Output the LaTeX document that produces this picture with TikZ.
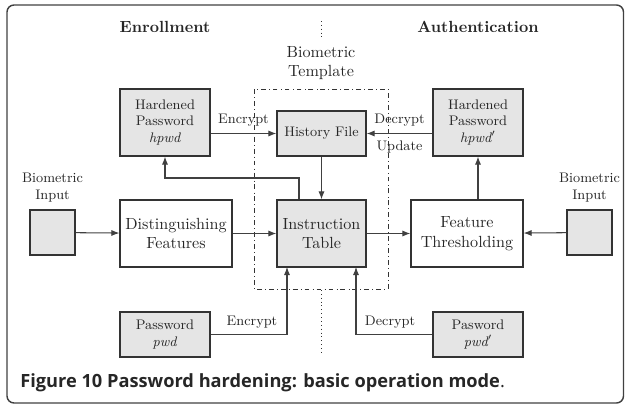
\documentclass[tikz,border=0pt]{standalone}
\usepackage{fontspec}
\newfontfamily\capfont{Open Sans}
\usetikzlibrary{arrows.meta}
\newlength{\pxu}
\setlength{\pxu}{0.62pt}
\tikzset{
  box/.style={rectangle, draw=black!80, line width=0.7pt, fill=black!10, text=black!85,
    font=\fontsize{8.6}{10.5}\selectfont, align=center, inner sep=0pt},
  bigbox/.style={rectangle, draw=black!80, line width=0.7pt, fill=white, text=black!85,
    align=center, inner sep=0pt, minimum width=112\pxu, minimum height=67\pxu},
  lbl/.style={font=\fontsize{8.6}{10.5}\selectfont, text=black!85, align=center},
  arr/.style={-{Latex[length=5pt,width=3.8pt]}, draw=black!75, line width=0.65pt},
}
\begin{document}
\begin{tikzpicture}[x=0.62pt, y=-0.62pt]
\useasboundingbox (0,0) rectangle (625,405);
\draw[rounded corners=7\pxu, line width=0.9pt, black!75] (7,5) rectangle (623.5,403);
% headings
\node[font=\bfseries, text=black!85] (enr) at (165,27) {Enrollment};
\node[font=\bfseries, text=black!85] (auth) at (478,27) {Authentication};
\node[align=center, text=black!85] (tmpl) at (321,63) {Biometric\\Template};
\draw[dotted, black!80] (321,21) -- (321,40);
\draw[dotted, black!80] (321,290) -- (321,353);
\draw[dash dot, black!80, line width=0.6pt] (254,89) rectangle (388,289);
% boxes
\node[box, minimum width=90\pxu, minimum height=67\pxu] (hpwd) at (165,122.5) {Hardened\\Password\\\textit{hpwd}};
\node[box, minimum width=89\pxu, minimum height=45\pxu] (hist) at (321.5,133.5) {History File};
\node[box, minimum width=90\pxu, minimum height=67\pxu] (hpwdb) at (478,122.5) {Hardened\\Password\\\textit{hpwd$'$}};
\node[box, minimum size=45\pxu] (bioL) at (52.5,232.5) {};
\node[lbl, anchor=south] (bioLt) at ([yshift=2\pxu]bioL.north) {Biometric\\Input};
\node[bigbox] (dist) at (176,233.5) {Distinguishing\\Features};
\node[box, font=\normalsize, minimum width=89\pxu, minimum height=67\pxu] (instr) at (321.5,233.5) {Instruction\\Table};
\node[bigbox] (thresh) at (467,233.5) {Feature\\Thresholding};
\node[box, minimum size=45\pxu] (bioR) at (589.5,232.5) {};
\node[lbl, anchor=south] (bioRt) at ([yshift=2\pxu]bioR.north) {Biometric\\Input};
\node[box, minimum width=90\pxu, minimum height=45\pxu] (pwd) at (165,334.5) {Password\\\textit{pwd}};
\node[box, minimum width=90\pxu, minimum height=45\pxu] (pwdb) at (478,334.5) {Pasword\\\textit{pwd$'$}};
% connectors
\draw[arr] (hist.west -| hpwd.east) -- node[lbl, above=1\pxu] {Encrypt} (hist.west);
\draw[arr] (hist.east -| hpwdb.west) -- node[lbl, above=1\pxu] {Decrypt} node[lbl, below=1\pxu] {Update} (hist.east);
\draw[arr] (hist) -- (instr);
\coordinate (knee) at (299,178);
\draw[arr] (instr.north -| knee) -- (knee) -| (hpwd.south);
\draw[arr] (bioL) -- (dist);
\draw[arr] (dist) -- (instr);
\draw[arr] (instr) -- (thresh);
\draw[arr] (bioR) -- (thresh);
\draw[arr] (thresh.north -| hpwdb) -- (hpwdb.south);
\coordinate (encin) at (287,267);
\coordinate (decin) at (356,267);
\draw[arr] (pwd.east) -| (encin);
\draw[arr] (pwdb.west) -| (decin);
\node[lbl] (enclbl) at (252,322.5) {Encrypt};
\node[lbl] (declbl) at (390,322.5) {Decrypt};
% caption
\node[anchor=base west, inner sep=0pt, font=\capfont\fontsize{11.3}{13}\selectfont, text=black!85] (cap) at (20,387)
  {\textbf{Figure 10 Password hardening: basic operation mode}.};
\end{tikzpicture}
\end{document}
